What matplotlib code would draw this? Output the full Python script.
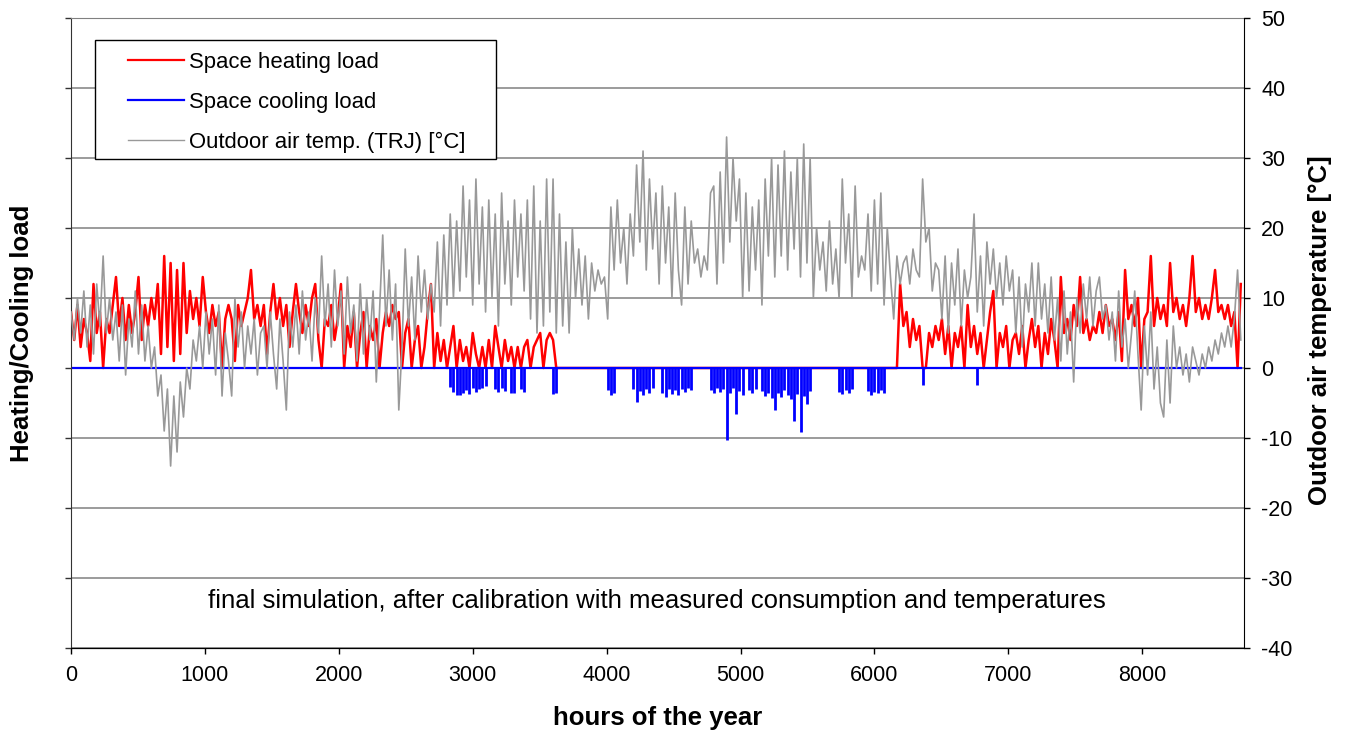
import numpy as np
import matplotlib
matplotlib.use("Agg")
import matplotlib.pyplot as plt
from matplotlib.patches import Rectangle

plt.rcParams['font.family'] = ['Liberation Sans', 'DejaVu Sans']
plt.rcParams['axes.unicode_minus'] = False

# daily samples (one value per day, alternating day/night swing)
temperature = [
    8, 4, 10, 5, 11, 3, 9, 2, 12, 6,            # day 0
    16, 5, 10, 4, 8, 1, 9, -1, 7, 3,            # day 10
    11, 2, 9, 1, 6, 0, 3, -4, -1, -9,           # day 20
    -3, -14, -4, -12, -2, -7, 0, -3, 4, 1,      # day 30
    6, 0, 8, 2, 7, -1, 9, -4, 5, 1,             # day 40
    -4, 10, 3, 8, 0, 6, 2, 7, -1, 5,            # day 50
    6, 0, 8, 2, -3, 7, 1, -6, 8, 3,             # day 60
    9, 2, 11, 4, 8, 1, 10, 5, 16, 6,            # day 70
    12, 3, 14, 6, 11, 2, 13, 5, 9, 1,           # day 80
    12, 2, 10, 4, 11, -2, 8, 19, 6, 14,         # day 90
    4, 12, -6, 3, 17, 6, 13, 4, 16, 8,          # day 100
    14, 7, 12, 8, 18, 6, 19, 9, 22, 10,         # day 110
    21, 11, 26, 13, 24, 9, 27, 12, 23, 8,       # day 120
    24, 10, 22, 6, 25, 12, 21, 9, 24, 13,       # day 130
    22, 11, 24, 7, 26, 5, 21, 6, 27, 8,         # day 140
    27, 5, 22, 6, 18, 5, 20, 10, 17, 9,         # day 150
    16, 7, 15, 11, 14, 12, 13, 7, 23, 14,       # day 160
    24, 15, 20, 12, 22, 16, 29, 18, 31, 14,     # day 170
    27, 17, 25, 12, 26, 15, 23, 10, 25, 14,     # day 180
    9, 23, 12, 21, 15, 17, 13, 16, 14, 25,      # day 190
    26, 12, 28, 15, 33, 18, 30, 21, 27, 10,     # day 200
    25, 11, 23, 14, 24, 9, 27, 16, 30, 13,      # day 210
    29, 16, 31, 14, 28, 17, 30, 13, 32, 15,     # day 220
    30, 10, 20, 14, 18, 11, 21, 12, 17, 10,     # day 230
    27, 15, 22, 10, 26, 13, 16, 14, 22, 11,     # day 240
    24, 12, 25, 9, 20, 13, 7, 16, 12, 15,       # day 250
    16, 12, 17, 14, 13, 27, 18, 20, 11, 15,     # day 260
    14, 7, 16, 5, 15, 9, 17, 6, 14, 10,         # day 270
    13, 22, 8, 16, 6, 18, 12, 17, 10, 15,       # day 280
    9, 16, 11, 14, 5, 13, 3, 12, 8, 15,         # day 290
    6, 15, 7, 12, 5, 13, 4, 10, 1, 11,          # day 300
    2, 8, -2, 10, 5, 12, 7, 13, 6, 11,          # day 310
    13, 7, 9, 4, 8, 1, 11, 3, 7, 0,             # day 320
    5, 11, 2, -6, 6, -1, 8, -3, 3, -5,          # day 330
    -7, 4, -5, 6, 0, 3, -1, 2, -2, 3,           # day 340
    1, -1, 2, 0, 3, 1, 4, 2, 5, 3,              # day 350
    6, 3, 7, 14, 4,                             # day 360
]

heating = [
    8, 4, 9, 3, 7, 5, 1, 12, 5, 8,              # day 0
    0, 7, 5, 9, 13, 6, 10, 4, 9, 5,             # day 10
    8, 13, 4, 9, 6, 10, 7, 12, 2, 16,           # day 20
    3, 15, 1, 14, 2, 15, 5, 11, 7, 10,          # day 30
    6, 13, 8, 5, 9, 6, 8, 0, 7, 9,              # day 40
    7, 1, 9, 6, 8, 10, 14, 7, 9, 6,             # day 50
    9, 2, 8, 12, 7, 10, 6, 9, 3, 8,             # day 60
    12, 8, 5, 9, 6, 10, 12, 4, 0, 7,            # day 70
    6, 9, 4, 7, 12, 0, 6, 3, 8, 0,              # day 80
    5, 8, 0, 6, 4, 7, 0, 5, 8, 6,               # day 90
    9, 7, 8, 0, 5, 7, 0, 4, 6, 0,               # day 100
    3, 8, 12, 0, 5, 1, 4, 0, 3, 6,              # day 110
    0, 4, 1, 3, 0, 5, 2, 0, 3, 0,               # day 120
    4, 0, 6, 3, 0, 4, 1, 3, 0, 3,               # day 130
    0, 3, 4, 0, 3, 4, 5, 0, 4, 5,               # day 140
    4, 0,                                       # day 150
] + [0] * 106 + [                               # no heating, day 152-257
    12, 6, 8, 3, 7, 4, 6, 0, 0, 5, 3, 6,        # day 258
    4, 7, 2, 6, 0, 5, 3, 6, 0, 9,               # day 270
    3, 6, 2, 5, 0, 4, 8, 11, 0, 5,              # day 280
    3, 6, 0, 4, 5, 2, 6, 0, 4, 7,               # day 290
    3, 6, 0, 5, 2, 7, 4, 0, 13, 5,              # day 300
    7, 4, 9, 6, 13, 5, 7, 4, 6, 5,              # day 310
    8, 5, 9, 6, 7, 4, 8, 1, 14, 7,              # day 320
    9, 6, 10, 0, 7, 8, 16, 6, 10, 7,            # day 330
    9, 6, 15, 8, 10, 7, 9, 6, 10, 16,           # day 340
    8, 10, 7, 9, 7, 10, 14, 8, 9, 7,            # day 350
    9, 6, 8, 0, 12,                             # day 360
]

cooling = [0] * 118 + [
    -2.7, -3.4, -3.8, -3.9, -3.5, -3.2, -3.7, -2.8, -3.4, -3.0, -2.9, -2.6,   # day 118
    0, 0, -3.0, -3.4, -2.9, -3.3, 0, -3.6, -3.5, 0, -3.0, -3.4,               # day 130
    0, 0, 0, 0, 0, 0, 0, 0, -3.7, -3.5, 0, 0,                                 # day 142
    0, 0, 0, 0, 0, 0, 0, 0, 0, 0, 0, 0,                                       # day 154
    0, -3.2, -3.9, -3.5, 0, 0, 0, 0, 0, -3.0, -4.9, -3.3,                     # day 166
    -3.8, -3.0, -3.6, -2.8, 0, 0, -3.5, -4.1, -3.0, -3.7, -3.2, -3.9,         # day 178
    -3.0, -3.4, -2.8, -3.1, 0, 0, 0, 0, 0, -3.1, -3.6, -2.9,                  # day 190
    -3.4, -3.0, -10.3, -3.5, -2.9, -6.5, -3.3, -3.8, 0, -3.2, -3.6, -3.0,     # day 202
    0, -3.3, -4.0, -3.5, -4.3, -6.0, -3.6, -4.1, -3.2, -3.8, -4.4, -7.6,      # day 214
    -3.7, -9.1, -4.0, -5.2, -3.3, 0, 0, 0, 0, 0, 0, 0,                        # day 226
    0, -3.4, -3.7, -3.1, -3.6, -3.0, 0, 0, 0, 0, -3.3, -3.8,                  # day 238
    -3.4, -3.6, -3.1, -3.5, 0, 0, 0, 0, 0, 0, 0, 0,                           # day 250
    0, 0, 0, -2.4, 0, 0, 0, 0, 0, 0, 0, 0,                                    # day 262
    0, 0, 0, 0, 0, 0, 0, 0, -2.4, 0, 0, 0,                                    # day 274
] + [0] * 79

x_ticks = [0, 1000, 2000, 3000, 4000, 5000, 6000, 7000, 8000]
y_ticks = [-40, -30, -20, -10, 0, 10, 20, 30, 40, 50]

hours = np.arange(len(temperature)) * 24

fig = plt.figure(figsize=(13.45, 7.35), dpi=100)
ax = fig.add_axes([71 / 1345, 87 / 735, 1173 / 1345, 630 / 735])
ax2 = ax.twinx()

# left axis: loads
heat_line, = ax.plot(hours, heating, color='#ff0000', lw=1.8)
cool = ax.stem(hours, cooling, linefmt='b-', markerfmt=' ', basefmt='b-')
plt.setp(cool.stemlines, color='#0000ff', lw=2.0)
cool.baseline.set_color('#0000ff')
cool.baseline.set_linewidth(1.6)

# right axis: outdoor temperature
temp_line, = ax2.plot(hours, temperature, color='#999999', lw=1.2)

for a in (ax, ax2):
    a.set_xlim(0, 8760)
    a.set_ylim(-40, 50)
    a.set_yticks(y_ticks)

ax.set_xticks(x_ticks)
ax.grid(axis='y', color='#808080', lw=1.1)
ax.set_axisbelow(True)
ax.tick_params(axis='y', labelleft=False, length=4.3, width=1, color='#333333')
ax.tick_params(axis='x', labelsize=15.5, length=4.3, width=1, pad=8)
ax2.tick_params(axis='y', labelsize=15.5, length=4.3, width=1, pad=8)

ax.spines['top'].set_color('#808080')
ax2.spines['top'].set_visible(False)
ax.spines['left'].set_color('#333333')
ax2.spines['left'].set_visible(False)
ax.spines['right'].set_visible(False)
ax.spines['bottom'].set_color('black')
ax2.spines['right'].set_color('black')

fig.text(22 / 1345, 1 - 333 / 735, 'Heating/Cooling load', rotation=90,
         ha='center', va='center', fontsize=18.5, fontweight='bold')
fig.text(1320 / 1345, 1 - 330 / 735, 'Outdoor air temperature [°C]', rotation=90,
         ha='center', va='center', fontsize=18.5, fontweight='bold')
fig.text(658 / 1345, 1 - 718 / 735, 'hours of the year',
         ha='center', va='center', fontsize=18.5, fontweight='bold')

ax2.text(0.4996, 0.0746, 'final simulation, after calibration with measured consumption and temperatures',
         transform=ax2.transAxes, ha='center', va='center', fontsize=18.5)

# legend box like the spreadsheet one
ax2.add_patch(Rectangle((0.0205, 0.7762), 0.3419, 0.1889, transform=ax2.transAxes,
                        facecolor='white', edgecolor='black', lw=1.0, zorder=4))
leg = ax2.legend([heat_line, cool.baseline, temp_line],
                 ['Space heating load', 'Space cooling load', 'Outdoor air temp. (TRJ) [°C]'],
                 loc='upper left', bbox_to_anchor=(0.0486, 0.9467), borderaxespad=0,
                 borderpad=0, frameon=False, fontsize=15.9, handlelength=2.53,
                 handletextpad=0.23, labelspacing=0.86)
leg.set_zorder(5)
leg.get_lines()[0].set_linewidth(1.6)
leg.get_lines()[1].set_linewidth(1.6)
leg.get_lines()[2].set_linewidth(1.0)

fig.savefig('out.png', dpi=100)
